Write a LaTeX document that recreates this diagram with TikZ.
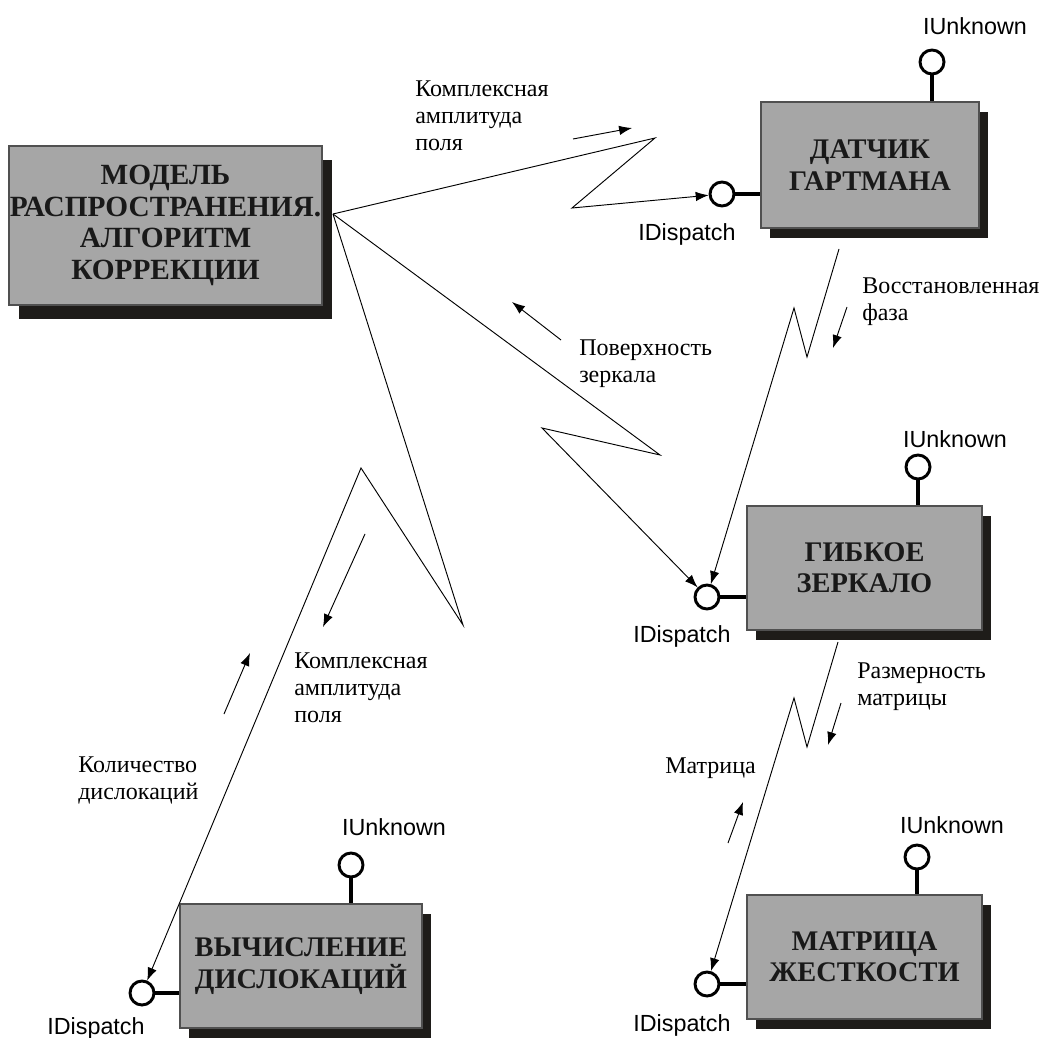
\documentclass[tikz,border=0pt]{standalone}
\usepackage{fontspec}
\setmainfont{Liberation Serif}
\setsansfont{Liberation Sans}
\usepackage{tikz}
\usetikzlibrary{arrows.meta,positioning,shadows}
\usepackage{xcolor}
\definecolor{boxgray}{RGB}{166,166,166}
\definecolor{boxedge}{RGB}{80,80,80}
\definecolor{shadowc}{RGB}{30,28,25}

\begin{document}
\begin{tikzpicture}[x=0.75pt,y=-0.75pt]
	\useasboundingbox (0,0) rectangle (1051,1038);
	\tikzset{
		boxbase/.style={rectangle,draw=boxedge,line width=0.8pt,fill=boxgray,align=center,inner sep=0.5pt,
			font=\fontsize{21.3}{23.6}\selectfont\bfseries,text=black!90},
		shade/.style 2 args={drop shadow={shadow xshift=#1,shadow yshift=#2,fill=shadowc,opacity=1}},
		block/.style={boxbase,shade={6.75pt}{-7.5pt}},
		lolli/.style={circle,draw,fill=white,line width=2.2pt,minimum size=18pt,inner sep=0pt},
		stem/.style={line width=3pt},
		iname/.style={anchor=base,inner sep=0pt,font=\sffamily\fontsize{17.5}{20}\selectfont},
		lbl/.style={anchor=north west,align=left,inner sep=0pt,font=\fontsize{18}{19.9}\selectfont},
		flow/.style={line width=0.7pt,-{Latex[length=3.4mm,width=2.5mm]}}
	}
	\begin{scope}
		\node[boxbase,shade={7.5pt}{-10.5pt},font=\fontsize{22}{23.6}\selectfont\bfseries,minimum width=234.75pt,minimum height=119.25pt] (Model) at (165.5,225.5) {МОДЕЛЬ\\РАСПРОСТРАНЕНИЯ.\\АЛГОРИТМ\\КОРРЕКЦИИ};
		\node[block,minimum width=163.5pt,minimum height=94.5pt] (Sensor) at (870,165) {ДАТЧИК\\ГАРТМАНА};
		\node[block,minimum width=176.25pt,minimum height=93pt] (Mirror) at (864.5,568) {ГИБКОЕ\\ЗЕРКАЛО};
		\node[block,minimum width=176.25pt,minimum height=93pt] (Matrix) at (864.5,957) {МАТРИЦА\\ЖЕСТКОСТИ};
		\node[block,minimum width=181.5pt,minimum height=93pt] (Disloc) at (301,966) {ВЫЧИСЛЕНИЕ\\ДИСЛОКАЦИЙ};

		\node[lolli] (SensorU) at (932,62) {};
		\node[lolli] (SensorD) at (722,194) {};
		\node[lolli] (MirrorU) at (918,467) {};
		\node[lolli] (MirrorD) at (707,597) {};
		\node[lolli] (MatrixU) at (917,857) {};
		\node[lolli] (MatrixD) at (707,984) {};
		\node[lolli] (DislocU) at (351,865) {};
		\node[lolli] (DislocD) at (142,993) {};

		\node[iname] (SensorUt) at (975,35) {IUnknown};
		\node[iname] (SensorDt) at (687,241) {IDispatch};
		\node[iname] (MirrorUt) at (955,447) {IUnknown};
		\node[iname] (MirrorDt) at (682,642) {IDispatch};
		\node[iname] (MatrixUt) at (952,833) {IUnknown};
		\node[iname] (MatrixDt) at (682,1031) {IDispatch};
		\node[iname] (DislocUt) at (394,835) {IUnknown};
		\node[iname] (DislocDt) at (96,1034) {IDispatch};

		\node[lbl] (field1) at (415,81) {Комплексная\\амплитуда\\поля};
		\node[lbl] (phase) at (862,278) {Восстановленная\\фаза};
		\node[lbl] (surface) at (579,340) {Поверхность\\зеркала};
		\node[lbl] (field2) at (294,653) {Комплексная\\амплитуда\\поля};
		\node[lbl] (count) at (78,757) {Количество\\дислокаций};
		\node[lbl] (size) at (857,663) {Размерность\\матрицы};
		\node[lbl] (matr) at (665,758) {Матрица};
	\end{scope}

	\begin{scope}
	\draw[stem] (SensorU) -- (SensorU |- Sensor.north);
	\draw[stem] (SensorD) -- (SensorD -| Sensor.west);
	\draw[stem] (MirrorU) -- (MirrorU |- Mirror.north);
	\draw[stem] (MirrorD) -- (MirrorD -| Mirror.west);
	\draw[stem] (MatrixU) -- (MatrixU |- Matrix.north);
	\draw[stem] (MatrixD) -- (MatrixD -| Matrix.west);
	\draw[stem] (DislocU) -- (DislocU |- Disloc.north);
	\draw[stem] (DislocD) -- (DislocD -| Disloc.west);

	\coordinate (Mout) at (333,214);
	\coordinate (Sout) at (839,249);
	\coordinate (Rout) at (838,642);
	\draw[flow] (Mout) -- (655,138) -- (572,208) -- (SensorD);
	\draw[flow] (Mout) -- (660,455) -- (542,428) -- (MirrorD);
	\draw[flow] (Mout) -- (463,625) -- (361,468) -- (DislocD);
	\draw[flow] (Sout) -- (807,357) -- (794,308) -- (MirrorD);
	\draw[flow] (Rout) -- (807,747) -- (794,698) -- (MatrixD);

	\coordinate (f1a) at (573,139); \coordinate (f1b) at (632,128);
	\coordinate (f2a) at (847,307); \coordinate (f2b) at (833,348);
	\coordinate (f3a) at (561,340); \coordinate (f3b) at (512,302);
	\coordinate (f4a) at (365,534); \coordinate (f4b) at (323,627);
	\coordinate (f5a) at (224,714); \coordinate (f5b) at (250,653);
	\coordinate (f6a) at (841,703); \coordinate (f6b) at (828,745);
	\coordinate (f7a) at (728,843); \coordinate (f7b) at (743,802);
	\draw[flow] (f1a) -- (f1b);
	\draw[flow] (f2a) -- (f2b);
	\draw[flow] (f3a) -- (f3b);
	\draw[flow] (f4a) -- (f4b);
	\draw[flow] (f5a) -- (f5b);
	\draw[flow] (f6a) -- (f6b);
	\draw[flow] (f7a) -- (f7b);
	\end{scope}
\end{tikzpicture}
\end{document}
